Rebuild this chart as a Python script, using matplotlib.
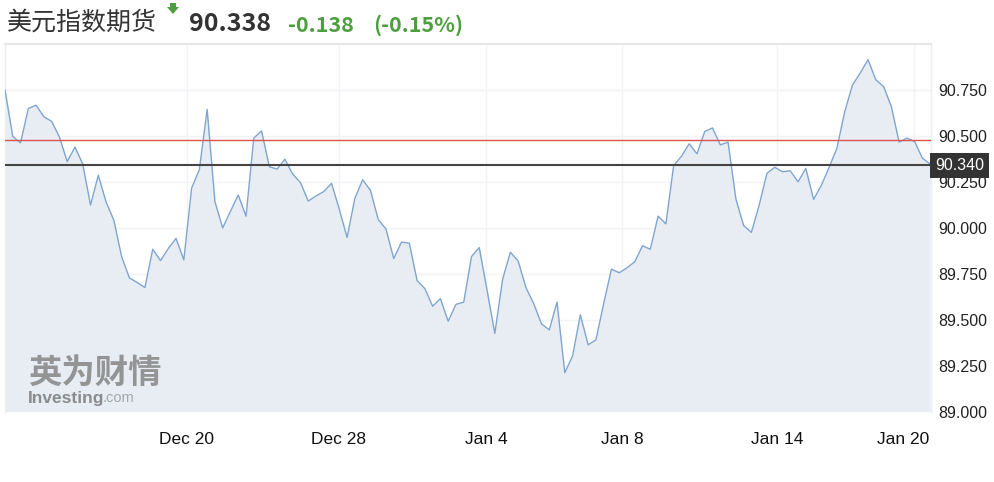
import matplotlib.pyplot as plt
import matplotlib.transforms as mtransforms
from matplotlib.patches import Polygon
import numpy as np

# 美元指数期货 — 价格走势
prices = [
    90.750, 90.497, 90.462, 90.649, 90.667, 90.604, 90.579, 90.494, 90.360, 90.439,
    90.347, 90.123, 90.286, 90.140, 90.041, 89.843, 89.727, 89.702, 89.675, 89.883,
    89.821, 89.887, 89.942, 89.825, 90.215, 90.316, 90.644, 90.142, 89.999, 90.090,
    90.178, 90.063, 90.488, 90.527, 90.332, 90.319, 90.373, 90.292, 90.246, 90.145,
    90.173, 90.197,
    90.242, 90.100, 89.947, 90.160, 90.261, 90.204, 90.045, 89.993, 89.832, 89.922,
    89.916, 89.713, 89.669, 89.573, 89.614, 89.491, 89.583, 89.595, 89.843, 89.892,
    89.660, 89.425, 89.719, 89.867, 89.819, 89.675, 89.587, 89.477, 89.444, 89.595,
    89.211, 89.302, 89.526, 89.363, 89.390, 89.587, 89.775, 89.755, 89.782, 89.815,
    89.902,
    89.883, 90.063, 90.021, 90.338, 90.389, 90.457, 90.402, 90.524, 90.543, 90.451,
    90.466, 90.158, 90.012, 89.975, 90.123, 90.296, 90.329, 90.305, 90.310, 90.250,
    90.323, 90.154, 90.231, 90.329, 90.433, 90.631, 90.777, 90.842, 90.915, 90.805,
    90.769, 90.659, 90.466, 90.488, 90.469, 90.378, 90.347,
]
date_labels = ["Dec 20", "Dec 28", "Jan 4", "Jan 8", "Jan 14", "Jan 20"]
date_pos = [23.4, 42.9, 61.9, 79.4, 99.3, 116.9]
y_ticks = [89.0, 89.25, 89.5, 89.75, 90.0, 90.25, 90.5, 90.75]

prev_close = 90.476
last_price = 90.340

title = "美元指数期货"
price_txt = "90.338"
change_txt = "-0.138"
pct_txt = "(-0.15%)"

W, H = 994, 482
fig = plt.figure(figsize=(W / 100, H / 100), dpi=100)
ax = fig.add_axes([5 / W, (H - 411.5) / H, 926 / W, 367.5 / H])

x = np.arange(len(prices))
ax.fill_between(x, prices, 89.0, color="#e8edf4", lw=0, zorder=1)
ax.plot(x, prices, color="#7fa5cf", lw=1.0, zorder=3)
ax.axhline(prev_close, color="#d9534f", lw=1.0, zorder=3)
ax.axhline(last_price, color="#454545", lw=1.5, zorder=3)

ax.set_xlim(0, 119.1)
ax.set_ylim(89.0, 91.0)

ax.set_xticks(date_pos)
ax.set_xticklabels(date_labels)
ax.set_yticks(y_ticks)
ax.set_yticklabels([f"{v:.3f}" for v in y_ticks])
ax.yaxis.tick_right()
ax.tick_params(axis="y", length=0, pad=5, labelsize=11.5, labelcolor="#222222")
ax.tick_params(axis="x", length=0, pad=15, labelsize=12.5, labelcolor="#111111")
for lab in ax.get_xticklabels() + ax.get_yticklabels():
    lab.set_family("Liberation Sans")
# 最后一个日期标签向左挪一点
last_lab = ax.get_xticklabels()[-1]
last_lab.set_transform(last_lab.get_transform()
                       + mtransforms.ScaledTranslation(-11 / 100, 0, fig.dpi_scale_trans))

ax.grid(True, color="#f1f3f6", lw=1.0, zorder=0)
ax.set_axisbelow(True)

ax.spines["bottom"].set_visible(False)
ax.spines["top"].set_color("#e6e6e6")
ax.spines["top"].set_linewidth(1.5)
for s in ["left", "right"]:
    ax.spines[s].set_color("#eeeeee")
    ax.spines[s].set_linewidth(1.0)

# 当前价格标签
ax.annotate(f"{last_price:.3f}", xy=(1.0, last_price),
            xycoords=ax.get_yaxis_transform(), xytext=(3, 0),
            textcoords="offset points", ha="left", va="center",
            fontsize=11.5, color="white", family="Liberation Sans",
            bbox=dict(boxstyle="square,pad=0.3", fc="#333333", ec="none"),
            annotation_clip=False, zorder=10)

# 水印
ax.text(23 / 926, 1 - (373 - 44) / 367.5, "英为财情", transform=ax.transAxes,
        fontsize=24, fontweight="bold", color="#858585", alpha=0.85,
        family=["Noto Sans CJK SC", "DejaVu Sans"], ha="left", va="center", zorder=2)
ax.text(23 / 926, 1 - (398 - 44) / 367.5, "Investing", transform=ax.transAxes,
        fontsize=12.5, fontweight="bold", color="#7a7a7a", alpha=0.85,
        family="Liberation Sans", ha="left", va="center", zorder=2)
ax.text(98 / 926, 1 - (398.5 - 44) / 367.5, ".com", transform=ax.transAxes,
        fontsize=10.5, color="#9a9a9a", alpha=0.85,
        family="Liberation Sans", ha="left", va="center", zorder=2)

# 标题栏
hdr = ["Noto Sans CJK SC", "DejaVu Sans"]
fig.text(7 / W, 1 - 23 / H, title, fontsize=18, color="#333333",
         family=hdr, ha="left", va="center")
fig.text(189 / W, 1 - 24 / H, price_txt, fontsize=18, fontweight="bold",
         color="#333333", family=hdr, ha="left", va="center")
fig.text(288 / W, 1 - 25 / H, change_txt, fontsize=15.5, fontweight="bold",
         color="#4c9f3d", family=hdr, ha="left", va="center")
fig.text(373 / W, 1 - 25 / H, pct_txt, fontsize=15.5, fontweight="bold",
         color="#4c9f3d", family=hdr, ha="left", va="center")

# 绿色下跌箭头
arrow = [(170, 3), (176, 3), (176, 7), (179, 7), (173, 14), (167, 7), (170, 7)]
fig.patches.append(Polygon([(px / W, 1 - py / H) for px, py in arrow], closed=True,
                           fc="#4c9f3d", ec="none", transform=fig.transFigure, figure=fig))

fig.savefig("out.png", dpi=100, facecolor="white")
